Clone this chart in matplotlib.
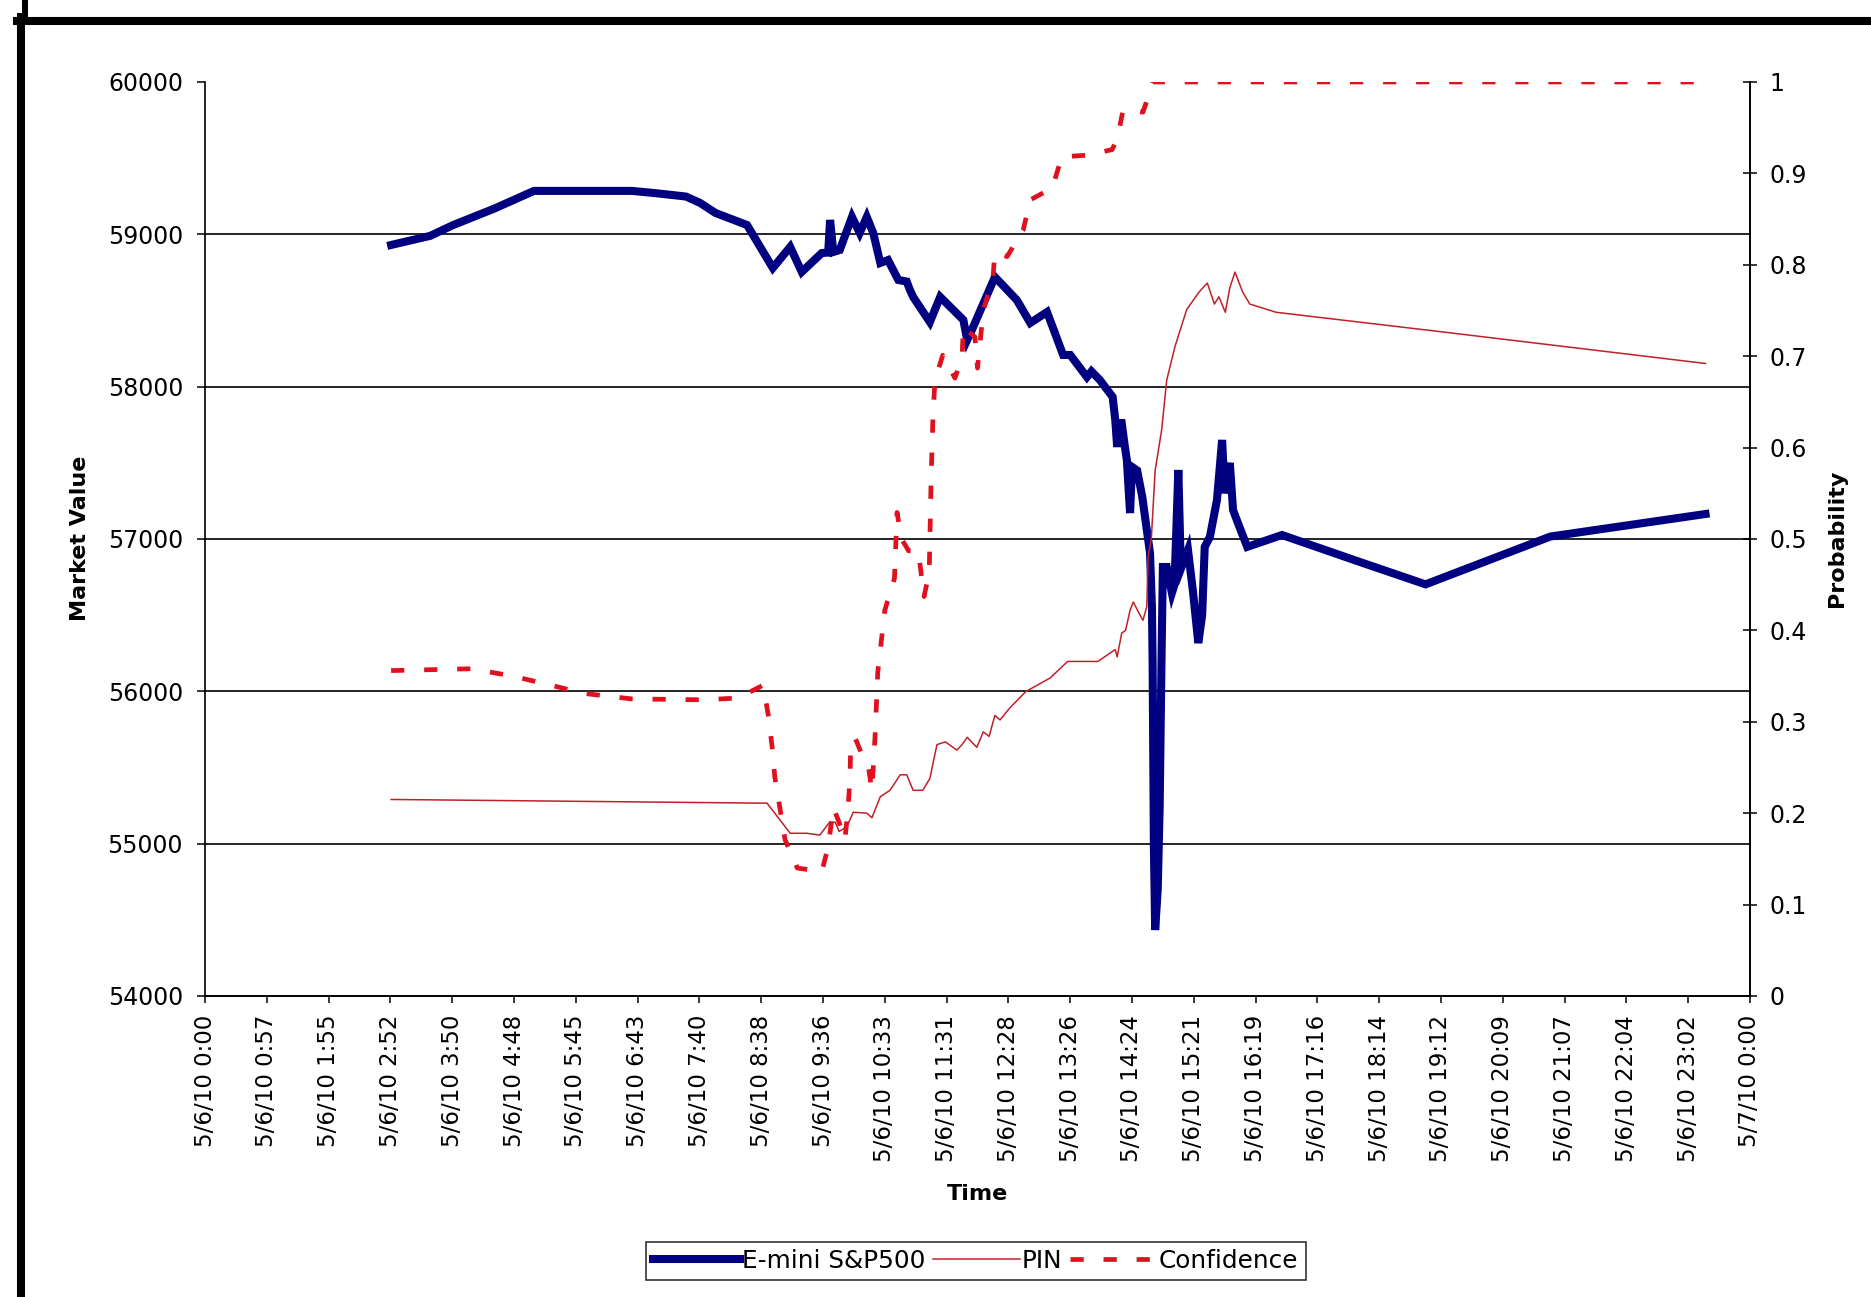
import numpy as np
import matplotlib.pyplot as plt
from matplotlib.lines import Line2D

plt.rcParams['font.family'] = ['DejaVu Sans']

# time in hours after 5/6/10 0:00
emini_t = [2.89, 3.5, 3.85, 4.5, 5.11, 6.63, 7.0, 7.47, 7.69, 7.93, 8.42, 8.82,
           9.09, 9.27, 9.58, 9.68, 9.71, 9.76, 9.86, 10.05, 10.17, 10.28, 10.38,
           10.49, 10.61, 10.77, 10.90, 10.95, 11.0, 11.26, 11.42, 11.78, 11.84,
           11.90, 12.27, 12.61, 12.82, 13.08, 13.33, 13.44, 13.70, 13.77, 13.90,
           14.10, 14.14, 14.17, 14.20, 14.24, 14.29, 14.32, 14.37, 14.40, 14.48,
           14.56, 14.63, 14.68, 14.71, 14.72, 14.74, 14.76, 14.80, 14.83, 14.86,
           14.88, 14.94, 15.02, 15.06, 15.12, 15.15, 15.17, 15.27, 15.35, 15.43,
           15.49, 15.53, 15.61, 15.72, 15.80, 15.84, 15.92, 15.97, 16.05, 16.19,
           16.73, 17.94, 18.96, 20.9, 23.31]
emini_v = [58930, 58990, 59060, 59170, 59285, 59285, 59270, 59248, 59206, 59140,
           59061, 58779, 58917, 58753, 58877, 58880, 59094, 58884, 58897, 59114,
           59009, 59114, 59009, 58812, 58831, 58700, 58690, 58635, 58589, 58424,
           58589, 58438, 58306, 58360, 58720, 58569, 58418, 58490, 58208, 58208,
           58063, 58100, 58044, 57932, 57781, 57604, 57761, 57761, 57604, 57519,
           57170, 57473, 57450, 57276, 57059, 56908, 56553, 56206, 54978, 54433,
           54700, 55241, 56252, 56816, 56816, 56645, 56700, 57453, 56950, 56816,
           56928, 56645, 56317, 56500, 56948, 57013, 57256, 57650, 57300, 57499,
           57190, 57100, 56948, 57026, 56849, 56702, 57016, 57164]

pin_t = [2.89, 8.59, 8.73, 9.09, 9.35, 9.55, 9.70, 9.79, 9.85, 9.97, 10.07, 10.28,
         10.36, 10.49, 10.64, 10.80, 10.90, 11.0, 11.15, 11.26, 11.37, 11.5, 11.68,
         11.76, 11.84, 11.99, 12.09, 12.18, 12.27, 12.35, 12.50, 12.75, 13.13,
         13.40, 13.87, 14.14, 14.17, 14.24, 14.30, 14.37, 14.42, 14.50, 14.57,
         14.63, 14.65, 14.70, 14.76, 14.86, 14.94, 15.07, 15.25, 15.44, 15.57,
         15.68, 15.75, 15.85, 15.92, 16.0, 16.12, 16.23, 16.64, 19.05, 23.31]
pin_v = [0.215, 0.211, 0.211, 0.178, 0.178, 0.176, 0.19, 0.19, 0.18, 0.185, 0.201,
         0.200, 0.195, 0.218, 0.225, 0.242, 0.242, 0.225, 0.225, 0.238, 0.275,
         0.278, 0.269, 0.275, 0.283, 0.272, 0.289, 0.284, 0.307, 0.302, 0.315,
         0.333, 0.348, 0.366, 0.366, 0.379, 0.371, 0.397, 0.400, 0.422, 0.431,
         0.420, 0.411, 0.426, 0.48, 0.50, 0.575, 0.619, 0.674, 0.711, 0.751,
         0.770, 0.780, 0.757, 0.765, 0.748, 0.775, 0.792, 0.770, 0.757, 0.748,
         0.728, 0.692]

conf_t = [2.89, 4.13, 4.78, 5.43, 5.89, 6.63, 7.75, 8.28, 8.67, 8.75, 8.81, 8.85,
          8.93, 9.01, 9.20, 9.58, 9.68, 9.76, 9.85, 9.94, 9.99, 10.02, 10.03,
          10.10, 10.20, 10.30, 10.36, 10.41, 10.43, 10.45, 10.56, 10.71, 10.75,
          10.82, 10.93, 11.08, 11.17, 11.25, 11.28, 11.31, 11.34, 11.46, 11.65,
          11.76, 11.78, 11.96, 12.0, 12.09, 12.24, 12.27, 12.46, 12.71, 12.82,
          13.16, 13.31, 13.72, 14.09, 14.17, 14.26, 14.57, 14.73, 23.31]
conf_v = [0.356, 0.358, 0.350, 0.339, 0.331, 0.325, 0.324, 0.326, 0.340, 0.307,
          0.272, 0.240, 0.206, 0.171, 0.140, 0.136, 0.163, 0.206, 0.190, 0.171,
          0.206, 0.240, 0.275, 0.282, 0.265, 0.253, 0.225, 0.286, 0.320, 0.354,
          0.422, 0.457, 0.529, 0.500, 0.487, 0.487, 0.437, 0.464, 0.568, 0.638,
          0.674, 0.701, 0.676, 0.699, 0.732, 0.721, 0.687, 0.750, 0.786, 0.813,
          0.809, 0.838, 0.871, 0.884, 0.918, 0.920, 0.926, 0.937, 0.969, 0.967,
          1.0, 1.0]

xtick_labels = ['5/6/10 0:00', '5/6/10 0:57', '5/6/10 1:55', '5/6/10 2:52',
                '5/6/10 3:50', '5/6/10 4:48', '5/6/10 5:45', '5/6/10 6:43',
                '5/6/10 7:40', '5/6/10 8:38', '5/6/10 9:36', '5/6/10 10:33',
                '5/6/10 11:31', '5/6/10 12:28', '5/6/10 13:26', '5/6/10 14:24',
                '5/6/10 15:21', '5/6/10 16:19', '5/6/10 17:16', '5/6/10 18:14',
                '5/6/10 19:12', '5/6/10 20:09', '5/6/10 21:07', '5/6/10 22:04',
                '5/6/10 23:02', '5/7/10 0:00']
xtick_pos = [i * 24 / 25 for i in range(len(xtick_labels))]

fs = 17

fig = plt.figure(figsize=(18.71, 12.97), dpi=100)
ax = fig.add_axes([0.1096, 0.2321, 0.8257, 0.7047])
ax2 = ax.twinx()

l1, = ax.plot(emini_t, emini_v, color='#000080', lw=5.8, solid_joinstyle='miter',
              label='E-mini S&P500', zorder=3)
l2, = ax2.plot(pin_t, pin_v, color='#C02028', lw=1.1, label='PIN', zorder=3)
l3, = ax2.plot(conf_t, conf_v, color='#E0101E', lw=3.4, dashes=(2.8, 4.2),
               label='Confidence', zorder=4)

ax.set_xlim(0, 24)
ax.set_ylim(54000, 60000)
ax2.set_ylim(0, 1)
ax.set_xticks(xtick_pos)
ax.set_xticklabels(xtick_labels, rotation=90, fontsize=16.5)
ax.set_yticks(np.arange(54000, 60001, 1000))
ax.set_yticklabels([str(v) for v in range(54000, 60001, 1000)], fontsize=fs)
ax2.set_yticks(np.arange(0, 1.01, 0.1))
ax2.set_yticklabels(['0', '0.1', '0.2', '0.3', '0.4', '0.5', '0.6', '0.7',
                     '0.8', '0.9', '1'], fontsize=fs)

ax.grid(axis='y', color='black', lw=1.2)
ax.set_axisbelow(True)
ax.yaxis.get_major_ticks()[-1].gridline.set_visible(False)
ax.yaxis.get_major_ticks()[0].gridline.set_visible(False)

ax.tick_params(axis='y', direction='out', length=5.8, width=1.1, pad=10)
ax.tick_params(axis='x', direction='out', length=5, width=1.1, pad=8.6)
ax2.tick_params(axis='y', direction='inout', length=10, width=1.1, pad=9)

for a in (ax, ax2):
    a.spines['top'].set_visible(False)
    for s in ('left', 'right', 'bottom'):
        a.spines[s].set_linewidth(1.2)
ax2.spines['left'].set_visible(False)

fig.text(0.0428, 0.585, 'Market Value', rotation=90, ha='center', va='center',
         fontsize=16, fontweight='bold')
fig.text(0.9818, 0.585, 'Probability', rotation=90, ha='center', va='center',
         fontsize=16, fontweight='bold')
fig.text(0.5227, 0.0794, 'Time', ha='center', va='center', fontsize=16,
         fontweight='bold')

leg = fig.legend(handles=[l1, l2, l3], loc='center', ncol=3,
                 bbox_to_anchor=(0.5216, 0.0278), fontsize=17.8, frameon=True,
                 fancybox=False, edgecolor='black', handlelength=3.5,
                 handletextpad=0.1, columnspacing=0.3, borderpad=0.3)
leg.get_frame().set_linewidth(1.2)

# thick page frame
fig.add_artist(Line2D([17 / 1871, 1], [1 - 21 / 1297, 1 - 21 / 1297],
                      transform=fig.transFigure, color='black', lw=5.8))
fig.add_artist(Line2D([21 / 1871, 21 / 1871], [0, 1 - 17 / 1297],
                      transform=fig.transFigure, color='black', lw=5.8))
fig.add_artist(Line2D([25 / 1871, 25 / 1871], [1 - 17 / 1297, 1],
                      transform=fig.transFigure, color='black', lw=4.3))

fig.savefig('out.png', dpi=100, facecolor='white')
